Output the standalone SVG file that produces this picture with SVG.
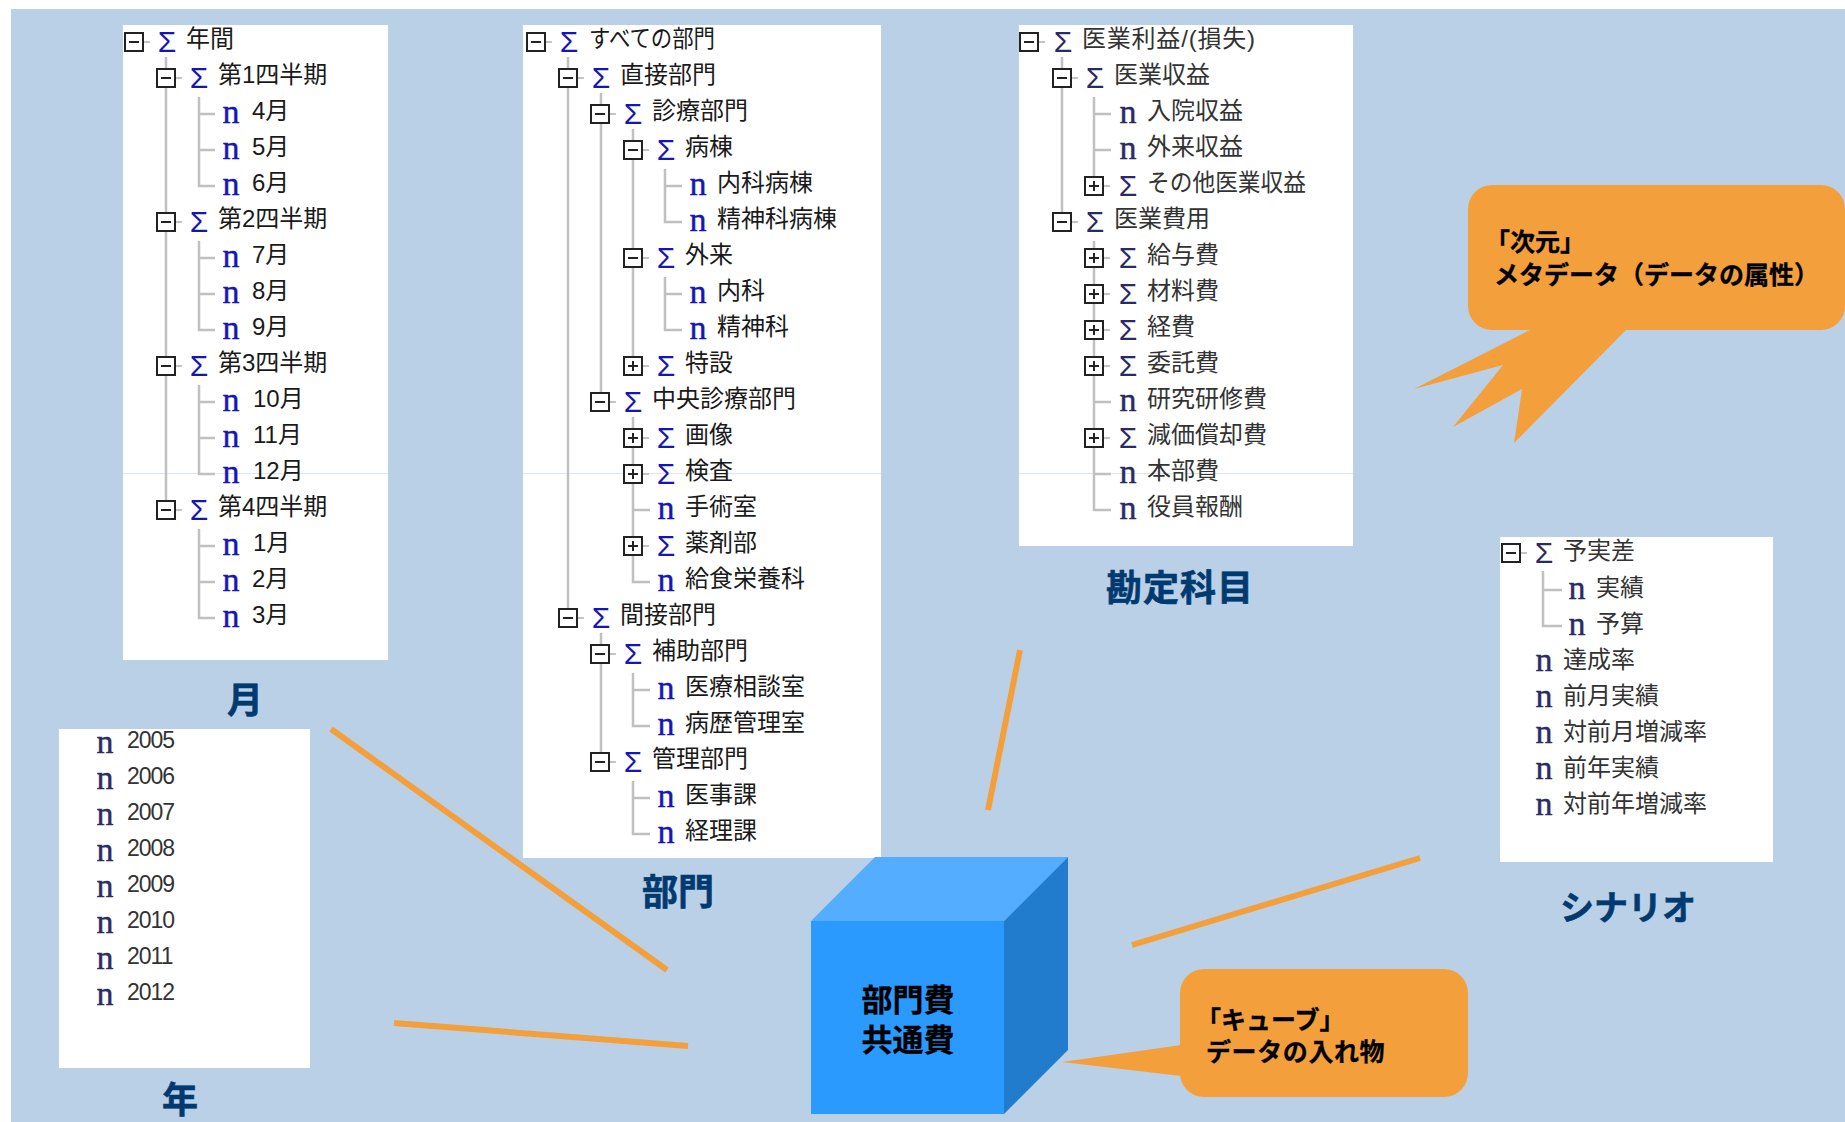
<svg xmlns="http://www.w3.org/2000/svg" width="1845" height="1122" viewBox="0 0 1845 1122">
<style>
text{font-family:"Liberation Sans","Noto Sans CJK JP",sans-serif}
.panel{fill:#fff}
.seam{fill:#dde7f3}
.l{font-size:24px;fill:#1a1a1a}
.y{font-size:23px;letter-spacing:-1px;fill:#333}
.s{font-size:30px;fill:#1616b4;text-anchor:middle}
.n{font-size:34px;fill:#1616b4;stroke:#1616b4;stroke-width:.4;text-anchor:middle;font-family:"Liberation Serif",serif}
.soft .l{fill:#333}
.soft .s{fill:#2a2a66}
.soft .n{fill:#2a2a66;stroke:#2a2a66}
.tree{fill:none;stroke:#c0c0c0;stroke-width:2.5}
.box{fill:#fff;stroke:#222;stroke-width:2}
.mark{fill:none;stroke:#222;stroke-width:2}
.stub{fill:none;stroke:#c4c4c4;stroke-width:2}
.title{font-size:36px;font-weight:700;fill:#003a70;text-anchor:middle;stroke:#003a70;stroke-width:.6}
.call{fill:#f3a03c}
.ctext{font-size:25px;font-weight:700;fill:#000;stroke:#000;stroke-width:.3}
.ctr{font-size:31px;font-weight:700;fill:#000;text-anchor:middle;stroke:#000;stroke-width:.3}
.line{stroke:#f3a03c;stroke-width:6;fill:none}
</style>
<defs>
<g id="m"><path class="stub" d="M9 0H16"/><rect class="box" x="-9" y="-9" width="18" height="18"/><path class="mark" d="M-5 0H5"/></g>
<g id="p"><path class="stub" d="M9 0H16"/><rect class="box" x="-9" y="-9" width="18" height="18"/><path class="mark" d="M-5 0H5M0 -5V5"/></g>
</defs>
<rect width="1845" height="1122" fill="#fff"/>
<rect x="11" y="9" width="1834" height="1113" fill="#bad0e6"/>

<g id="panel-month">
<rect class="panel" x="123" y="25" width="265" height="635"/>
<rect class="seam" x="123" y="473" width="265" height="1"/>
<path class="tree" d="M166 57V501M199 97V186H215M199 114H215M199 150H215M199 241V330H215M199 258H215M199 294H215M199 385V474H215M199 402H215M199 438H215M199 529V618H215M199 546H215M199 582H215"/>
<g transform="translate(134 42)"><use href="#m"/><text class="s" x="33" y="10">Σ</text><text class="l" x="52" y="5">年間</text></g>
<g transform="translate(166 78)"><use href="#m"/><text class="s" x="33" y="10">Σ</text><text class="l" x="52" y="5">第1四半期</text></g>
<g transform="translate(199 114)"><text class="n" x="32" y="9">n</text><text class="l" x="53" y="5">4月</text></g>
<g transform="translate(199 150)"><text class="n" x="32" y="9">n</text><text class="l" x="53" y="5">5月</text></g>
<g transform="translate(199 186)"><text class="n" x="32" y="9">n</text><text class="l" x="53" y="5">6月</text></g>
<g transform="translate(166 222)"><use href="#m"/><text class="s" x="33" y="10">Σ</text><text class="l" x="52" y="5">第2四半期</text></g>
<g transform="translate(199 258)"><text class="n" x="32" y="9">n</text><text class="l" x="53" y="5">7月</text></g>
<g transform="translate(199 294)"><text class="n" x="32" y="9">n</text><text class="l" x="53" y="5">8月</text></g>
<g transform="translate(199 330)"><text class="n" x="32" y="9">n</text><text class="l" x="53" y="5">9月</text></g>
<g transform="translate(166 366)"><use href="#m"/><text class="s" x="33" y="10">Σ</text><text class="l" x="52" y="5">第3四半期</text></g>
<g transform="translate(199 402)"><text class="n" x="32" y="9">n</text><text class="l" x="54" y="5">10月</text></g>
<g transform="translate(199 438)"><text class="n" x="32" y="9">n</text><text class="l" x="54" y="5">11月</text></g>
<g transform="translate(199 474)"><text class="n" x="32" y="9">n</text><text class="l" x="54" y="5">12月</text></g>
<g transform="translate(166 510)"><use href="#m"/><text class="s" x="33" y="10">Σ</text><text class="l" x="52" y="5">第4四半期</text></g>
<g transform="translate(199 546)"><text class="n" x="32" y="9">n</text><text class="l" x="54" y="5">1月</text></g>
<g transform="translate(199 582)"><text class="n" x="32" y="9">n</text><text class="l" x="53" y="5">2月</text></g>
<g transform="translate(199 618)"><text class="n" x="32" y="9">n</text><text class="l" x="53" y="5">3月</text></g>
</g>

<g id="panel-dept">
<rect class="panel" x="523" y="25" width="358" height="833"/>
<rect class="seam" x="523" y="473" width="358" height="1"/>
<path class="tree" d="M568 57V609M601 93V393M601 633V753M633 129V357M633 417V582H650M633 510H650M665 169V222H682M665 186H682M665 277V330H682M665 294H682M633 673V726H650M633 690H650M633 781V834H650M633 798H650"/>
<g transform="translate(536 42)"><use href="#m"/><text class="s" x="33" y="10">Σ</text><text class="l" x="53" y="5" textLength="126" lengthAdjust="spacingAndGlyphs">すべての部門</text></g>
<g transform="translate(568 78)"><use href="#m"/><text class="s" x="33" y="10">Σ</text><text class="l" x="52" y="5">直接部門</text></g>
<g transform="translate(600 114)"><use href="#m"/><text class="s" x="33" y="10">Σ</text><text class="l" x="52" y="5">診療部門</text></g>
<g transform="translate(633 150)"><use href="#m"/><text class="s" x="33" y="10">Σ</text><text class="l" x="52" y="5">病棟</text></g>
<g transform="translate(665 186)"><text class="n" x="33" y="9">n</text><text class="l" x="52" y="5">内科病棟</text></g>
<g transform="translate(665 222)"><text class="n" x="33" y="9">n</text><text class="l" x="52" y="5">精神科病棟</text></g>
<g transform="translate(633 258)"><use href="#m"/><text class="s" x="33" y="10">Σ</text><text class="l" x="52" y="5">外来</text></g>
<g transform="translate(665 294)"><text class="n" x="33" y="9">n</text><text class="l" x="52" y="5">内科</text></g>
<g transform="translate(665 330)"><text class="n" x="33" y="9">n</text><text class="l" x="52" y="5">精神科</text></g>
<g transform="translate(633 366)"><use href="#p"/><text class="s" x="33" y="10">Σ</text><text class="l" x="52" y="5">特設</text></g>
<g transform="translate(600 402)"><use href="#m"/><text class="s" x="33" y="10">Σ</text><text class="l" x="52" y="5">中央診療部門</text></g>
<g transform="translate(633 438)"><use href="#p"/><text class="s" x="33" y="10">Σ</text><text class="l" x="52" y="5">画像</text></g>
<g transform="translate(633 474)"><use href="#p"/><text class="s" x="33" y="10">Σ</text><text class="l" x="52" y="5">検査</text></g>
<g transform="translate(633 510)"><text class="n" x="33" y="9">n</text><text class="l" x="52" y="5">手術室</text></g>
<g transform="translate(633 546)"><use href="#p"/><text class="s" x="33" y="10">Σ</text><text class="l" x="52" y="5">薬剤部</text></g>
<g transform="translate(633 582)"><text class="n" x="33" y="9">n</text><text class="l" x="52" y="5">給食栄養科</text></g>
<g transform="translate(568 618)"><use href="#m"/><text class="s" x="33" y="10">Σ</text><text class="l" x="52" y="5">間接部門</text></g>
<g transform="translate(600 654)"><use href="#m"/><text class="s" x="33" y="10">Σ</text><text class="l" x="52" y="5">補助部門</text></g>
<g transform="translate(633 690)"><text class="n" x="33" y="9">n</text><text class="l" x="52" y="5">医療相談室</text></g>
<g transform="translate(633 726)"><text class="n" x="33" y="9">n</text><text class="l" x="52" y="5">病歴管理室</text></g>
<g transform="translate(600 762)"><use href="#m"/><text class="s" x="33" y="10">Σ</text><text class="l" x="52" y="5">管理部門</text></g>
<g transform="translate(633 798)"><text class="n" x="33" y="9">n</text><text class="l" x="52" y="5">医事課</text></g>
<g transform="translate(633 834)"><text class="n" x="33" y="9">n</text><text class="l" x="52" y="5">経理課</text></g>
</g>

<g id="panel-account" class="soft">
<rect class="panel" x="1019" y="25" width="334" height="521"/>
<rect class="seam" x="1019" y="473" width="334" height="1"/>
<path class="tree" d="M1062 57V213M1094 97V177M1094 114H1111M1094 150H1111M1094 241V510H1111M1094 402H1111M1094 474H1111"/>
<g transform="translate(1029 42)"><use href="#m"/><text class="s" x="34" y="10">Σ</text><text class="l" x="53" y="5" textLength="173" lengthAdjust="spacing">医業利益/(損失)</text></g>
<g transform="translate(1062 78)"><use href="#m"/><text class="s" x="33" y="10">Σ</text><text class="l" x="52" y="5">医業収益</text></g>
<g transform="translate(1094 114)"><text class="n" x="34" y="9">n</text><text class="l" x="53" y="5">入院収益</text></g>
<g transform="translate(1094 150)"><text class="n" x="34" y="9">n</text><text class="l" x="53" y="5">外来収益</text></g>
<g transform="translate(1094 186)"><use href="#p"/><text class="s" x="34" y="10">Σ</text><text class="l" x="53" y="5" textLength="159" lengthAdjust="spacingAndGlyphs">その他医業収益</text></g>
<g transform="translate(1062 222)"><use href="#m"/><text class="s" x="33" y="10">Σ</text><text class="l" x="52" y="5">医業費用</text></g>
<g transform="translate(1094 258)"><use href="#p"/><text class="s" x="34" y="10">Σ</text><text class="l" x="53" y="5">給与費</text></g>
<g transform="translate(1094 294)"><use href="#p"/><text class="s" x="34" y="10">Σ</text><text class="l" x="53" y="5">材料費</text></g>
<g transform="translate(1094 330)"><use href="#p"/><text class="s" x="34" y="10">Σ</text><text class="l" x="53" y="5">経費</text></g>
<g transform="translate(1094 366)"><use href="#p"/><text class="s" x="34" y="10">Σ</text><text class="l" x="53" y="5">委託費</text></g>
<g transform="translate(1094 402)"><text class="n" x="34" y="9">n</text><text class="l" x="53" y="5">研究研修費</text></g>
<g transform="translate(1094 438)"><use href="#p"/><text class="s" x="34" y="10">Σ</text><text class="l" x="53" y="5">減価償却費</text></g>
<g transform="translate(1094 474)"><text class="n" x="34" y="9">n</text><text class="l" x="53" y="5">本部費</text></g>
<g transform="translate(1094 510)"><text class="n" x="34" y="9">n</text><text class="l" x="53" y="5">役員報酬</text></g>
</g>

<g id="panel-scenario" class="soft">
<rect class="panel" x="1500" y="537" width="273" height="325"/>
<path class="tree" d="M1543 571V626H1562M1543 590H1562"/>
<g transform="translate(1511 553)"><use href="#m"/><text class="s" x="33" y="10">Σ</text><text class="l" x="52" y="6">予実差</text></g>
<g transform="translate(1544 590)"><text class="n" x="33" y="9">n</text><text class="l" x="52" y="6">実績</text></g>
<g transform="translate(1544 626)"><text class="n" x="33" y="9">n</text><text class="l" x="52" y="6">予算</text></g>
<g transform="translate(1511 662)"><text class="n" x="33" y="9">n</text><text class="l" x="52" y="6">達成率</text></g>
<g transform="translate(1511 698)"><text class="n" x="33" y="9">n</text><text class="l" x="52" y="6">前月実績</text></g>
<g transform="translate(1511 734)"><text class="n" x="33" y="9">n</text><text class="l" x="52" y="6">対前月増減率</text></g>
<g transform="translate(1511 770)"><text class="n" x="33" y="9">n</text><text class="l" x="52" y="6">前年実績</text></g>
<g transform="translate(1511 806)"><text class="n" x="33" y="9">n</text><text class="l" x="52" y="6">対前年増減率</text></g>
</g>

<g id="panel-year" class="soft">
<rect class="panel" x="59" y="729" width="251" height="339"/>
<g transform="translate(72 745)"><text class="n" x="33" y="8">n</text><text class="y" x="55" y="3">2005</text></g>
<g transform="translate(72 781)"><text class="n" x="33" y="8">n</text><text class="y" x="55" y="3">2006</text></g>
<g transform="translate(72 817)"><text class="n" x="33" y="8">n</text><text class="y" x="55" y="3">2007</text></g>
<g transform="translate(72 853)"><text class="n" x="33" y="8">n</text><text class="y" x="55" y="3">2008</text></g>
<g transform="translate(72 889)"><text class="n" x="33" y="8">n</text><text class="y" x="55" y="3">2009</text></g>
<g transform="translate(72 925)"><text class="n" x="33" y="8">n</text><text class="y" x="55" y="3">2010</text></g>
<g transform="translate(72 961)"><text class="n" x="33" y="8">n</text><text class="y" x="55" y="3">2011</text></g>
<g transform="translate(72 997)"><text class="n" x="33" y="8">n</text><text class="y" x="55" y="3">2012</text></g>
</g>

<g id="titles">
<text class="title" x="245" y="713">月</text>
<text class="title" x="180" y="1113">年</text>
<text class="title" x="678" y="905">部門</text>
<text class="title" x="1180" y="601" letter-spacing="1">勘定科目</text>
<text class="title" x="1628" y="920" style="font-size:34px">シナリオ</text>
</g>

<g id="connectors">
<path class="line" d="M331 729L667 970"/>
<path class="line" d="M394 1023L688 1046"/>
<path class="line" d="M1020 650L988 810"/>
<path class="line" d="M1420 858L1132 945"/>
</g>

<g id="cube">
<polygon points="811,921 875,857 1068,857 1004,921" fill="#55adff"/>
<polygon points="1004,921 1068,857 1068,1050 1004,1114" fill="#227ccd"/>
<rect x="811" y="921" width="193" height="193" fill="#2a9aff"/>
<text class="ctr" x="908" y="1011">部門費</text>
<text class="ctr" x="908" y="1051">共通費</text>
</g>

<g id="callout-cube">
<rect class="call" x="1180" y="969" width="288" height="128" rx="24"/>
<polygon class="call" points="1181,1045 1062,1062 1181,1076"/>
<text class="ctext" x="1196" y="1029">「キューブ」</text>
<text class="ctext" x="1206" y="1061" letter-spacing=".6">データの入れ物</text>
</g>

<g id="callout-dimension">
<rect class="call" x="1468" y="185" width="377" height="145" rx="24"/>
<polygon class="call" points="1532,329 1414,389 1503,365 1453,427 1522,389 1514,443 1627,329"/>
<text class="ctext" x="1485" y="251">「次元」</text>
<text class="ctext" x="1494" y="284">メタデータ（データの属性）</text>
</g>
</svg>
